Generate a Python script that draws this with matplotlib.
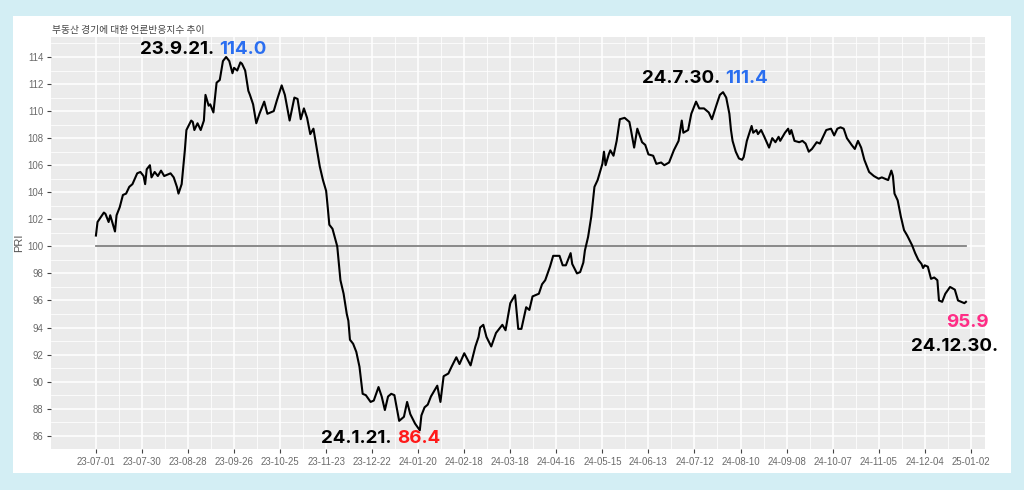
import numpy as np
import pandas as pd
import matplotlib
matplotlib.use("Agg")
import matplotlib.pyplot as plt
from matplotlib.patches import Rectangle

# ---------------- data ----------------
start_date = "2023-07-01"
day_offset = [
    0, 1, 5, 6, 8, 9, 12, 13, 15, 17,
    19, 21, 23, 26, 28, 30, 31, 32, 34, 35,
    37, 39, 41, 43, 47, 49, 51, 52, 54, 56,
    57, 60, 61, 62, 64, 66, 68, 69, 71, 72,
    74, 76, 78, 80, 82, 84, 86, 87, 89, 91,
    92, 94, 96, 97, 99, 101, 103, 106, 108, 112,
    114, 117, 119, 122, 125, 127, 129, 131, 133, 135,
    137, 139, 141, 143, 145, 146, 147, 149, 152, 154,
    156, 158, 159, 160, 162, 164, 166, 168, 170, 173,
    175, 178, 180, 182, 184, 186, 188, 191, 194, 196,
    198, 201, 204, 205, 207, 209, 211, 215, 217, 219,
    222, 224, 227, 229, 232, 236, 239, 241, 242, 244,
    246, 249, 252, 256, 258, 261, 264, 266, 268, 271,
    273, 275, 279, 281, 283, 286, 288, 292, 294, 296,
    299, 300, 303, 305, 307, 308, 310, 312, 314, 316,
    319, 320, 321, 323, 324, 326, 328, 330, 333, 336,
    337, 339, 341, 344, 346, 348, 351, 353, 356, 358,
    361, 364, 367, 369, 370, 373, 375, 378, 380, 383,
    386, 388, 391, 393, 395, 397, 399, 400, 401, 403,
    405, 407, 408, 410, 413, 414, 416, 417, 419, 421,
    424, 426, 428, 430, 431, 434, 436, 437, 438, 440,
    443, 445, 447, 449, 451, 454, 456, 458, 460, 463,
    465, 467, 469, 471, 473, 476, 478, 480, 482, 484,
    487, 490, 493, 495, 497, 499, 501, 502, 503, 505,
    507, 509, 511, 514, 516, 518, 520, 521, 522, 524,
    526, 528, 530, 531, 533, 535, 538, 541, 543, 545,
    547, 548,
]
pri = [
    100.8, 101.8, 102.5, 102.4, 101.8, 102.3, 101.1, 102.3, 102.9, 103.8,
    103.9, 104.4, 104.6, 105.4, 105.5, 105.2, 104.6, 105.7, 106.0, 105.1,
    105.5, 105.2, 105.6, 105.2, 105.4, 105.1, 104.4, 103.9, 104.6, 107.1,
    108.6, 109.3, 109.2, 108.6, 109.1, 108.6, 109.3, 111.2, 110.4, 110.5,
    109.9, 112.1, 112.3, 113.7, 114.0, 113.7, 112.8, 113.2, 113.0, 113.6,
    113.5, 113.0, 111.5, 111.2, 110.5, 109.1, 109.8, 110.7, 109.8, 110.0,
    110.8, 111.9, 111.2, 109.3, 111.0, 110.9, 109.4, 110.2, 109.5, 108.3,
    108.7, 107.3, 105.9, 104.9, 104.1, 102.9, 101.6, 101.3, 100.0, 97.5,
    96.5, 95.0, 94.5, 93.1, 92.8, 92.2, 91.1, 89.1, 89.0, 88.5,
    88.6, 89.6, 88.9, 87.9, 88.9, 89.1, 89.0, 87.1, 87.4, 88.5,
    87.6, 86.9, 86.4, 87.5, 88.1, 88.3, 88.9, 89.7, 88.5, 90.4,
    90.6, 91.1, 91.8, 91.3, 92.1, 91.2, 92.6, 93.3, 94.0, 94.2,
    93.3, 92.6, 93.6, 94.2, 93.8, 95.8, 96.4, 93.9, 93.9, 95.5,
    95.3, 96.3, 96.5, 97.2, 97.5, 98.5, 99.3, 99.3, 98.6, 98.6,
    99.5, 98.7, 98.0, 98.1, 98.8, 99.7, 100.7, 102.2, 104.4, 104.9,
    106.1, 107.0, 106.0, 106.8, 107.1, 106.7, 107.8, 109.4, 109.5, 109.2,
    108.6, 107.3, 108.7, 107.7, 107.5, 106.8, 106.7, 106.1, 106.2, 106.0,
    106.2, 107.1, 107.8, 109.3, 108.4, 108.6, 109.8, 110.7, 110.2, 110.2,
    109.9, 109.4, 110.5, 111.2, 111.4, 111.0, 109.8, 108.6, 107.8, 107.0,
    106.5, 106.4, 106.6, 107.8, 108.9, 108.4, 108.6, 108.3, 108.6, 108.1,
    107.3, 108.0, 107.7, 108.1, 107.8, 108.4, 108.7, 108.3, 108.6, 107.8,
    107.7, 107.8, 107.6, 107.0, 107.2, 107.7, 107.6, 108.1, 108.6, 108.7,
    108.2, 108.7, 108.8, 108.7, 108.0, 107.5, 107.2, 107.8, 107.3, 106.4,
    105.5, 105.2, 105.0, 105.1, 105.0, 104.9, 105.6, 105.2, 103.9, 103.4,
    102.2, 101.2, 100.8, 100.1, 99.5, 99.0, 98.7, 98.4, 98.6, 98.5,
    97.6, 97.7, 97.5, 96.0, 95.9, 96.5, 97.0, 96.8, 96.0, 95.9,
    95.8, 95.9,
]
ref_level = 100
x_tick_labels = [
    "23-07-01", "23-07-30", "23-08-28", "23-09-26", "23-10-25", "23-11-23",
    "23-12-22", "24-01-20", "24-02-18", "24-03-18", "24-04-16", "24-05-15",
    "24-06-13", "24-07-12", "24-08-10", "24-09-08", "24-10-07", "24-11-05",
    "24-12-04", "25-01-02",
]
y_ticks = [86, 88, 90, 92, 94, 96, 98, 100, 102, 104, 106, 108, 110, 112, 114]
title = "부동산 경기에 대한 언론반응지수 추이"
y_label = "PRI"
# annotations: (date label, value label, value colour)
ann_peak1 = ("23.9.21.", "114.0", "#2a6ef0")
ann_trough = ("24.1.21.", "86.4", "#ff1a1a")
ann_peak2 = ("24.7.30.", "111.4", "#2a6ef0")
ann_end = ("24.12.30.", "95.9", "#ff2d86")

assert len(day_offset) == len(pri)

# ---------------- figure ----------------
W, H = 1024, 490
fig = plt.figure(figsize=(W / 100, H / 100), dpi=100)
fig.patch.set_facecolor("#d3eef4")
fig.add_artist(Rectangle((13 / W, 1 - 473 / H), (1011 - 13) / W, (473 - 16) / H,
                         transform=fig.transFigure, facecolor="white",
                         edgecolor="none", zorder=0))

ax = fig.add_axes([51 / W, 1 - 449 / H, (985 - 51) / W, (449 - 36.7) / H])
ax.set_facecolor("#EBEBEB")
for s in ax.spines.values():
    s.set_visible(False)

t0 = pd.Timestamp(start_date)
dates = t0 + pd.to_timedelta(day_offset, unit="D")
tick_dates = pd.to_datetime(x_tick_labels, format="%y-%m-%d")
minor_dates = tick_dates[:-1] + (tick_dates[1:] - tick_dates[:-1]) / 2

# grid
for d in minor_dates:
    ax.axvline(d, color="white", lw=0.55, zorder=1)
for d in tick_dates:
    ax.axvline(d, color="white", lw=1.1, zorder=1)
for y in y_ticks:
    ax.axhline(y, color="white", lw=1.1, zorder=1)
for y in np.array(y_ticks[:-1]) + 1:
    ax.axhline(y, color="white", lw=0.55, zorder=1)
ax.axhline(y_ticks[0] - 1, color="white", lw=0.55, zorder=1)
ax.axhline(y_ticks[-1] + 1, color="white", lw=0.55, zorder=1)

ax.plot([dates[0], dates[-1]], [ref_level, ref_level], color="#808080", lw=1.3, zorder=2)
ax.plot(dates, pri, color="black", lw=1.5, zorder=3)

ax.set_xlim(t0 - pd.Timedelta(days=28.3), t0 + pd.Timedelta(days=560))
ax.set_ylim(85.02, 115.5)
ax.set_xticks(tick_dates)
ax.set_xticklabels(x_tick_labels)
ax.set_yticks(y_ticks)
ax.set_yticklabels([str(v) for v in y_ticks])
ax.tick_params(axis="both", length=3, width=0.8, color="#444444",
               labelsize=6.9, labelcolor="#6a6a6a", pad=2.5)
for lab in ax.get_xticklabels() + ax.get_yticklabels():
    lab.set_fontfamily("Liberation Sans")
ax.set_ylabel(y_label, fontsize=8, color="#555555", family="Liberation Sans", labelpad=2)

fig.text(52 / W, 1 - 30 / H, title, fontsize=7, color="#444444",
         family=["Noto Sans CJK KR", "DejaVu Sans"], va="center", ha="left")

# ---------------- annotations ----------------
FS = 13.5


def two_part(split_x, base_y, ann):
    fig.text(split_x / W, 1 - base_y / H, ann[0], fontsize=FS, fontweight="bold",
             family="Inter", color="black", ha="right", va="baseline")
    fig.text((split_x + 5) / W, 1 - base_y / H, ann[1], fontsize=FS, fontweight="bold",
             family="Inter", color=ann[2], ha="left", va="baseline")


two_part(214, 54, ann_peak1)
two_part(720, 83, ann_peak2)
two_part(392, 443, ann_trough)
fig.text(989 / W, 1 - 327 / H, ann_end[1], fontsize=FS, fontweight="bold",
         family="Inter", color=ann_end[2], ha="right", va="baseline")
fig.text(998 / W, 1 - 351 / H, ann_end[0], fontsize=FS, fontweight="bold",
         family="Inter", color="black", ha="right", va="baseline")

fig.savefig("out.png", dpi=100, facecolor=fig.get_facecolor())
